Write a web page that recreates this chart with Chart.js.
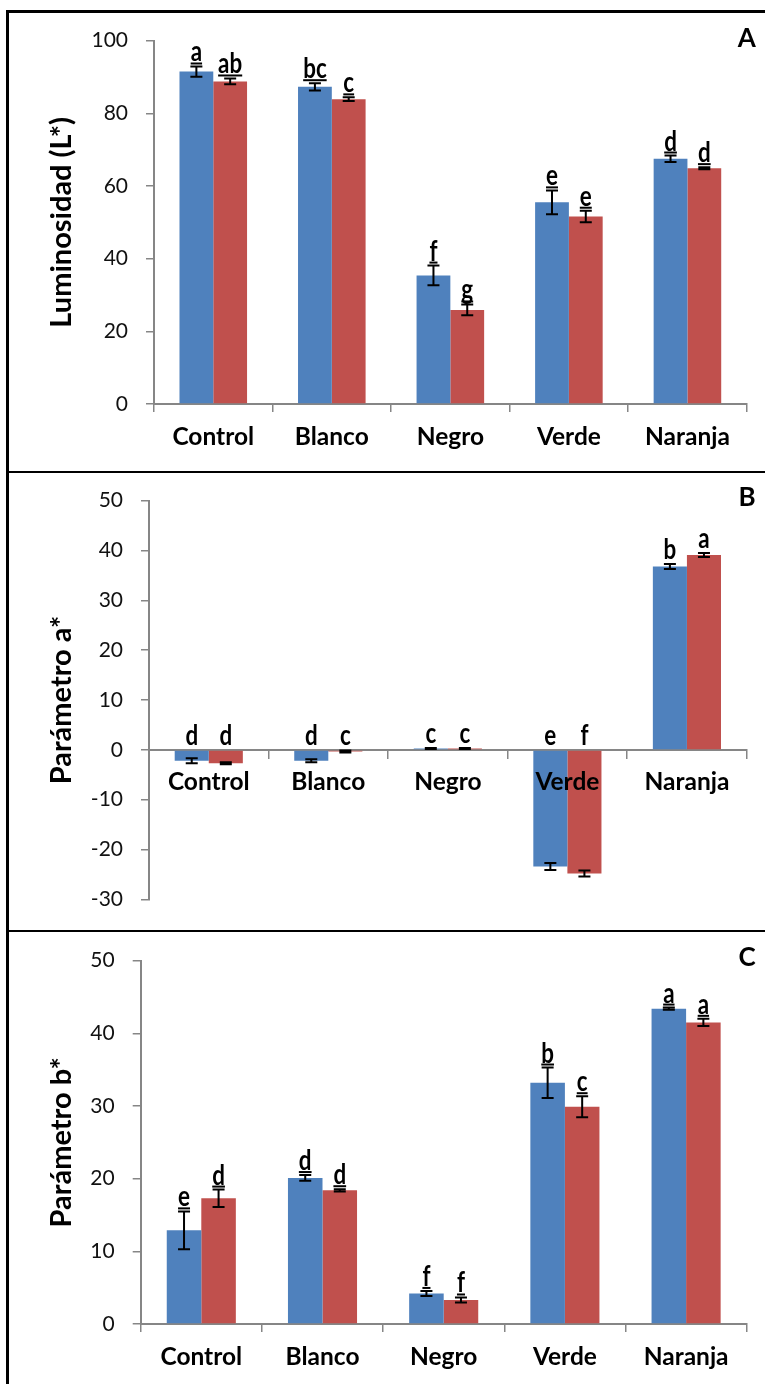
<!DOCTYPE html>
<html>
<head>
<meta charset="utf-8">
<script src="https://cdn.jsdelivr.net/npm/chart.js@4.4.1/dist/chart.umd.min.js"></script>
<style>
  html, body { margin: 0; padding: 0; background: #fff; }
  body { width: 765px; height: 1384px; position: relative; overflow: hidden; }
  .panel { position: absolute; left: 0; width: 765px; }
  .rule { position: absolute; background: #000; }
</style>
</head>
<body>
<div class="panel" style="top:0;height:470px"><canvas id="chartL"></canvas></div>
<div class="panel" style="top:470px;height:460px"><canvas id="chartA"></canvas></div>
<div class="panel" style="top:930px;height:454px"><canvas id="chartB"></canvas></div>
<div class="rule" style="left:6px;top:10px;width:2.5px;height:1374px"></div>
<div class="rule" style="left:6px;top:10px;width:759px;height:2.5px"></div>
<div class="rule" style="left:6px;top:470.5px;width:759px;height:2.5px"></div>
<div class="rule" style="left:6px;top:929.5px;width:759px;height:2.5px"></div>
<script>
const categories = ['Control', 'Blanco', 'Negro', 'Verde', 'Naranja'];

// Luminosidad (L*)
const lumBlue = [91.5, 87.3, 35.4, 55.5, 67.5];
const lumBlueErr = [1.4, 1.0, 2.7, 3.3, 0.9];
const lumRed = [88.8, 83.9, 25.9, 51.6, 64.9];
const lumRedErr = [0.8, 0.5, 1.5, 1.6, 0.3];
const lumBlueLetters = ['a', 'bc', 'f', 'e', 'd'];
const lumRedLetters = ['ab', 'c', 'g', 'e', 'd'];
const lumTicks = [0, 20, 40, 60, 80, 100];

// Parámetro a*
const aBlue = [-2.2, -2.2, 0.3, -23.4, 36.8];
const aBlueErr = [0.5, 0.3, 0.1, 0.7, 0.5];
const aRed = [-2.7, -0.3, 0.3, -24.8, 39.1];
const aRedErr = [0.2, 0.2, 0.1, 0.6, 0.4];
const aBlueLetters = ['d', 'd', 'c', 'e', 'b'];
const aRedLetters = ['d', 'c', 'c', 'f', 'a'];
const aTicks = [-30, -20, -10, 0, 10, 20, 30, 40, 50];

// Parámetro b*
const bBlue = [12.9, 20.1, 4.2, 33.2, 43.4];
const bBlueErr = [2.6, 0.4, 0.35, 2.1, 0.15];
const bRed = [17.3, 18.4, 3.3, 29.9, 41.5];
const bRedErr = [1.2, 0.15, 0.35, 1.45, 0.5];
const bBlueLetters = ['e', 'd', 'f', 'b', 'a'];
const bRedLetters = ['d', 'd', 'f', 'c', 'a'];
const bTicks = [0, 10, 20, 30, 40, 50];

const BLUE = '#4F81BD';
const RED = '#C0504D';
const AXIS = '#868686';

// error bars plus significance letters above each bar
const errorLetters = {
  id: 'errorLetters',
  afterDatasetsDraw(chart, args, opts) {
    const ctx = chart.ctx;
    const ys = chart.scales.y;
    const zero = ys.getPixelForValue(0);
    ctx.save();
    chart.data.datasets.forEach((ds, di) => {
      const meta = chart.getDatasetMeta(di);
      const errs = opts.errors[di];
      const letters = opts.letters[di];
      meta.data.forEach((bar, i) => {
        const v = ds.data[i], e = errs[i];
        const yTop = ys.getPixelForValue(v + e);
        const yBot = ys.getPixelForValue(v - e);
        ctx.strokeStyle = '#000';
        ctx.lineWidth = 2;
        ctx.beginPath();
        ctx.moveTo(bar.x, yTop); ctx.lineTo(bar.x, yBot);
        ctx.moveTo(bar.x - 6, yTop); ctx.lineTo(bar.x + 6, yTop);
        ctx.moveTo(bar.x - 6, yBot); ctx.lineTo(bar.x + 6, yBot);
        ctx.stroke();

        const base = v >= 0 ? yTop - opts.gap : zero - opts.gap;
        ctx.save();
        ctx.translate(bar.x, base);
        ctx.scale(0.8, 1);
        ctx.font = 'bold 28px Lato';
        ctx.textAlign = 'center';
        ctx.textBaseline = 'alphabetic';
        ctx.fillStyle = '#000';
        ctx.fillText(letters[i], 0, 0);
        if (opts.underline) {
          const w = ctx.measureText(letters[i]).width;
          ctx.fillRect(-w / 2, 1, w, 2);
        }
        ctx.restore();
      });
    });
    ctx.restore();
  }
};

// panel tag in the upper right corner
const panelTag = {
  id: 'panelTag',
  afterDraw(chart, args, opts) {
    const ctx = chart.ctx;
    const area = chart.chartArea;
    ctx.save();
    ctx.font = 'bold 26px Lato';
    ctx.fillStyle = '#000';
    ctx.textAlign = 'right';
    ctx.textBaseline = 'middle';
    ctx.fillText(opts.text, area.right + 9, area.top + opts.dy);
    ctx.restore();
  }
};

function makeChart(id, cfg) {
  return new Chart(document.getElementById(id), {
    type: 'bar',
    data: {
      labels: categories,
      datasets: [
        { data: cfg.blue, backgroundColor: BLUE, categoryPercentage: 0.57, barPercentage: 1 },
        { data: cfg.red, backgroundColor: RED, categoryPercentage: 0.57, barPercentage: 1 }
      ]
    },
    options: {
      responsive: true,
      maintainAspectRatio: false,
      animation: false,
      devicePixelRatio: 1,
      layout: { padding: { top: cfg.padTop, right: 18.3, left: 0, bottom: cfg.padBottom } },
      plugins: {
        legend: { display: false },
        tooltip: { enabled: false },
        errorLetters: { errors: cfg.errors, letters: cfg.letters, gap: 5, underline: cfg.underline },
        panelTag: { text: cfg.tag, dy: cfg.tagDy }
      },
      scales: {
        x: {
          position: cfg.xPos,
          offset: true,
          grid: { display: true, drawOnChartArea: false, drawTicks: true, tickLength: 8, color: AXIS, lineWidth: 1.5, offset: true },
          border: { display: true, color: AXIS, width: 2 },
          ticks: { z: 1, color: '#000', font: { family: 'Lato', size: 24.5, weight: 'bold' }, padding: 10, maxRotation: 0, autoSkip: false },
          afterFit: s => { s.height = cfg.xHeight; }
        },
        y: {
          min: cfg.min,
          max: cfg.max,
          afterBuildTicks: s => { s.ticks = cfg.ticks.map(v => ({ value: v })); },
          grid: { display: true, drawOnChartArea: false, drawTicks: true, tickLength: 8, color: AXIS, lineWidth: 1.5 },
          border: { display: true, color: AXIS, width: 2 },
          ticks: { color: '#111', font: { family: 'Lato', size: 21 }, padding: 18 },
          title: {
            display: true,
            text: cfg.title,
            color: '#000',
            font: { family: 'Lato', size: 29, weight: 'bold' },
            padding: { top: 44.6, bottom: 0 }
          },
          afterFit: s => { s.width = cfg.yWidth; }
        }
      }
    },
    plugins: [errorLetters, panelTag]
  });
}

makeChart('chartL', {
  blue: lumBlue, red: lumRed, errors: [lumBlueErr, lumRedErr], letters: [lumBlueLetters, lumRedLetters],
  ticks: lumTicks, min: 0, max: 100, title: 'Luminosidad (L*)', tag: 'A', tagDy: -1.7,
  padTop: 40.7, padBottom: 0, xHeight: 66, yWidth: 154, xPos: 'bottom', underline: true
});

makeChart('chartA', {
  blue: aBlue, red: aRed, errors: [aBlueErr, aRedErr], letters: [aBlueLetters, aRedLetters],
  ticks: aTicks, min: -30, max: 50, title: 'Parámetro a*', tag: 'B', tagDy: -3,
  padTop: 30.7, padBottom: 29, xHeight: 0, yWidth: 149, xPos: { y: 0 }, underline: false
});

makeChart('chartB', {
  blue: bBlue, red: bRed, errors: [bBlueErr, bRedErr], letters: [bBlueLetters, bRedLetters],
  ticks: bTicks, min: 0, max: 50, title: 'Parámetro b*', tag: 'C', tagDy: -2.7,
  padTop: 30.7, padBottom: 0, xHeight: 60, yWidth: 140.7, xPos: 'bottom', underline: true
});
</script>
</body>
</html>
